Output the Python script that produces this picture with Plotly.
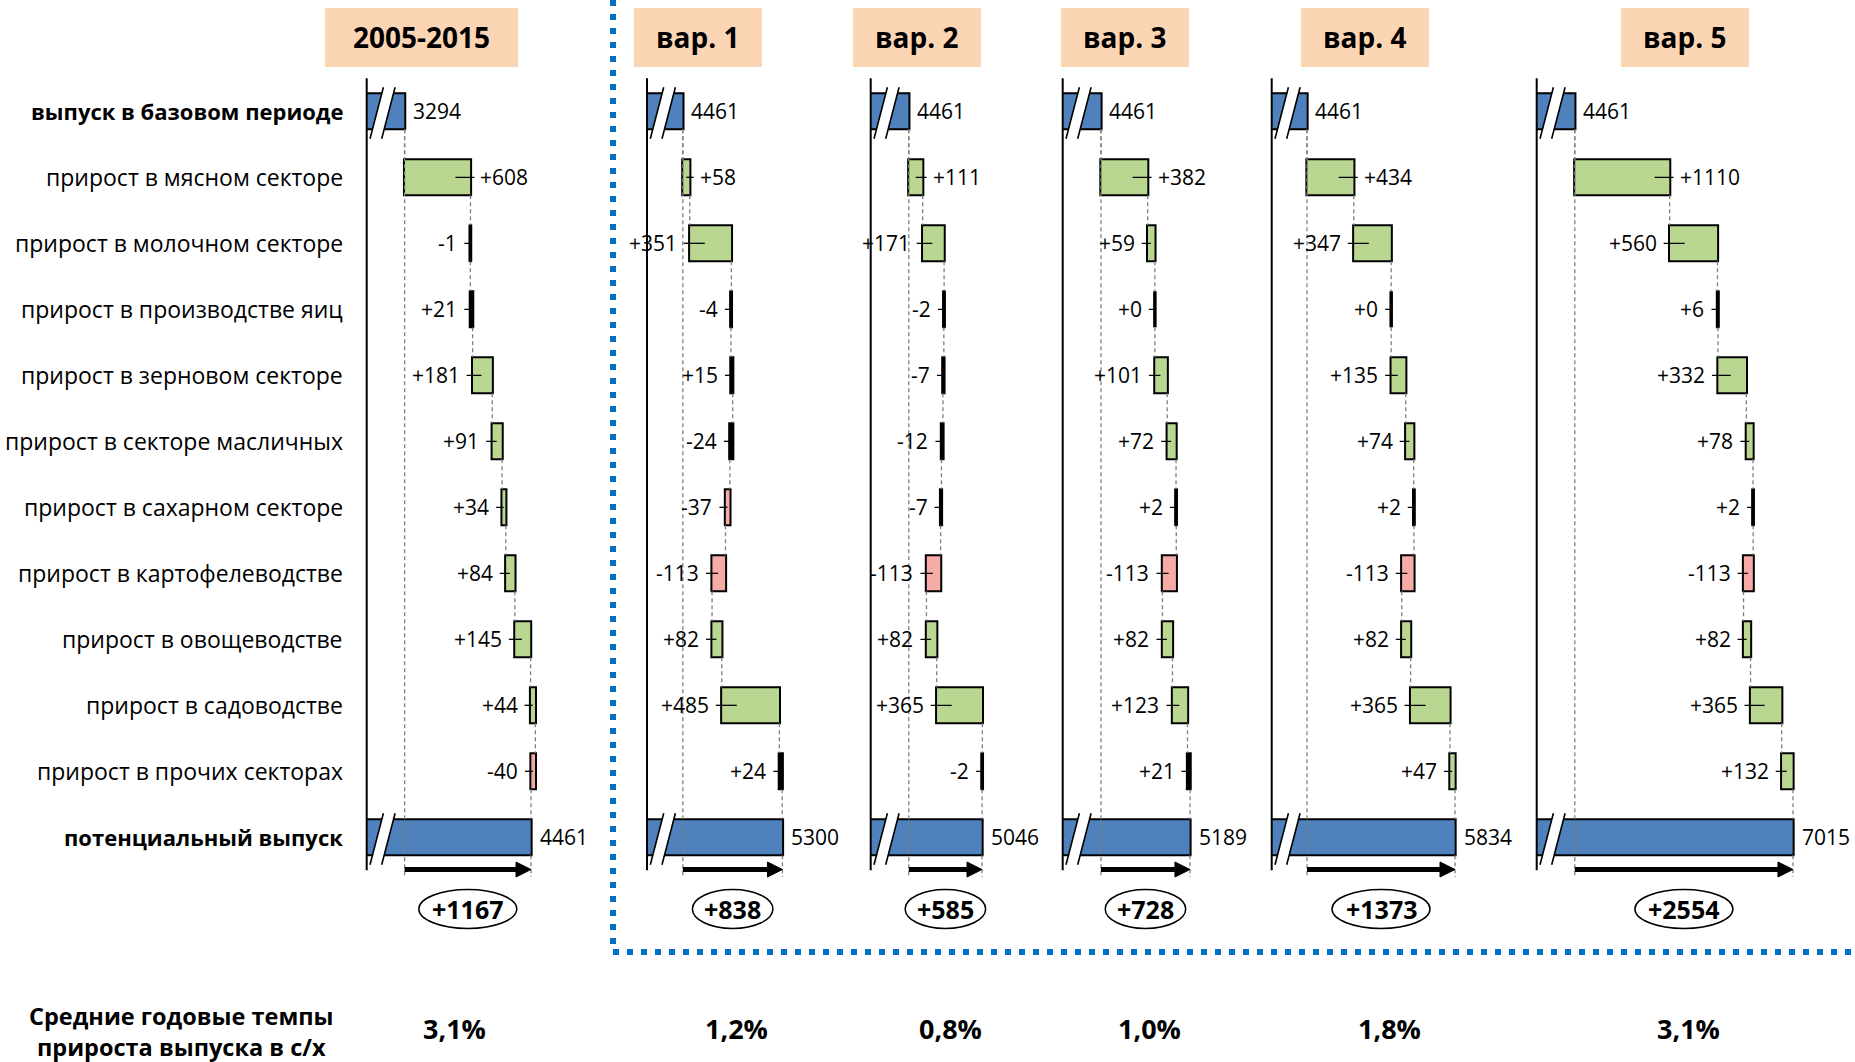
import plotly.graph_objects as go

# ---------------- data ----------------
categories = [
    "выпуск в базовом периоде",
    "прирост в мясном секторе",
    "прирост в молочном секторе",
    "прирост в производстве яиц",
    "прирост в зерновом секторе",
    "прирост в секторе масличных",
    "прирост в сахарном секторе",
    "прирост в картофелеводстве",
    "прирост в овощеводстве",
    "прирост в садоводстве",
    "прирост в прочих секторах",
    "потенциальный выпуск",
]
panel_titles = ["2005-2015", "вар. 1", "вар. 2", "вар. 3", "вар. 4", "вар. 5"]
base_output = [3294, 4461, 4461, 4461, 4461, 4461]
inc_2005_2015 = [608, -1, 21, 181, 91, 34, 84, 145, 44, -40]
inc_var1 = [58, 351, -4, 15, -24, -37, -113, 82, 485, 24]
inc_var2 = [111, 171, -2, -7, -12, -7, -113, 82, 365, -2]
inc_var3 = [382, 59, 0, 101, 72, 2, -113, 82, 123, 21]
inc_var4 = [434, 347, 0, 135, 74, 2, -113, 82, 365, 47]
inc_var5 = [1110, 560, 6, 332, 78, 2, -113, 82, 365, 132]
increments = [inc_2005_2015, inc_var1, inc_var2, inc_var3, inc_var4, inc_var5]
potential_output = [4461, 5300, 5046, 5189, 5834, 7015]
total_growth = [1167, 838, 585, 728, 1373, 2554]
annual_growth = ["3,1%", "1,2%", "0,8%", "1,0%", "1,8%", "3,1%"]
growth_caption = "Средние годовые темпы<br>прироста выпуска в с/х"

# ---------------- layout constants ----------------
W, H = 1855, 1062
ROW_PX = 66.0
ROW0_PX = 111.3
BAR_W = 0.545
panel_left_px = [366.7, 647.0, 870.7, 1062.7, 1271.7, 1536.7]
panel_xmin = [2944, 4159, 4156.5, 4148, 4133.5, 4015]
panel_px_per_unit = [0.10831, 0.11871, 0.12513, 0.12225, 0.10779, 0.08543]
header_px = [(325, 518), (634, 762), (853, 981), (1061, 1189), (1301, 1429), (1621, 1749)]
pct_center_px = [454, 736, 950, 1149, 1389, 1688]
HEADER_Y = (8, 67)

BLUE = "#4F81BD"
GREEN = "#B9D791"
PINK = "#F5ABA6"
PEACH = "#FCD5B5"
DOT_BLUE = "#0070C0"
GRAY = "#7F7F7F"
FONT = "Open Sans"
VAL_SIZE = 21
CAT_SIZE = 23
CAT_BOLD_SIZE = 22

Y_ARROW = (869.5 - ROW0_PX) / ROW_PX
Y_DASH_END = (877 - ROW0_PX) / ROW_PX
Y_ELL = (909 - ROW0_PX) / ROW_PX
Y_PCT = (1028 - ROW0_PX) / ROW_PX
Y_CAPTION = (1031 - ROW0_PX) / ROW_PX

fig = go.Figure()
shapes = []
annotations = []

n_rows = len(categories)
half = BAR_W / 2

for p in range(6):
    ax = "x" if p == 0 else f"x{p + 1}"
    s = panel_px_per_unit[p]
    x0ax = panel_xmin[p]
    incs = increments[p]
    b = base_output[p]
    f = potential_output[p]

    def dx(px, s=s):
        return px / s

    def dy(px):
        return px / ROW_PX

    fig.add_trace(go.Waterfall(
        orientation="h",
        measure=["absolute"] + ["relative"] * len(incs) + ["absolute"],
        x=[b] + incs + [f],
        y=list(range(n_rows)),
        xaxis=ax, yaxis="y",
        width=BAR_W,
        textinfo="none",
        hoverinfo="skip",
        increasing=dict(marker=dict(color=GREEN, line=dict(color="black", width=2))),
        decreasing=dict(marker=dict(color=PINK, line=dict(color="black", width=2))),
        totals=dict(marker=dict(color=BLUE, line=dict(color="black", width=2))),
        connector=dict(mode="between", line=dict(color=GRAY, width=1.3, dash="4px,3px")),
    ))

    # very thin bars are rendered as solid black strokes
    cum = b
    for r, v in enumerate(incs, start=1):
        start, end = cum, cum + v
        cum = end
        L, R = min(start, end), max(start, end)
        wpx = abs(v) * s
        if wpx < 3.0:
            c = (L + R) / 2
            fig.add_trace(go.Scatter(x=[c, c], y=[r - half, r + half], xaxis=ax, yaxis="y",
                                     mode="lines", line=dict(color="black", width=max(3.5, wpx + 2)),
                                     hoverinfo="skip", showlegend=False))
        if r == 1:
            inward = min(15, 0.5 * wpx)
            shapes.append(dict(type="line", xref=ax, yref="y", x0=R - dx(inward), x1=R + dx(4),
                               y0=r, y1=r, line=dict(color="black", width=1.3)))
            annotations.append(dict(xref=ax, yref="y", x=R, y=r, xshift=8, xanchor="left",
                                    yanchor="middle", showarrow=False, text=f"{v:+d}",
                                    font=dict(family=FONT, size=VAL_SIZE, color="black")))
        else:
            inward = min(15, 0.45 * wpx)
            shapes.append(dict(type="line", xref=ax, yref="y", x0=L - dx(6), x1=L + dx(inward),
                               y0=r, y1=r, line=dict(color="black", width=1.3)))
            annotations.append(dict(xref=ax, yref="y", x=L, y=r, xshift=-11, xanchor="right",
                                    yanchor="middle", showarrow=False, text=f"{v:+d}",
                                    font=dict(family=FONT, size=VAL_SIZE, color="black")))

    # base / final value labels
    annotations.append(dict(xref=ax, yref="y", x=b, y=0, xshift=6, xanchor="left", yanchor="middle",
                            showarrow=False, text=str(b),
                            font=dict(family=FONT, size=VAL_SIZE, color="black")))
    annotations.append(dict(xref=ax, yref="y", x=f, y=n_rows - 1, xshift=7, xanchor="left",
                            yanchor="middle", showarrow=False, text=str(f),
                            font=dict(family=FONT, size=VAL_SIZE, color="black")))

    # long dashed guides
    shapes.append(dict(type="line", xref=ax, yref="y", x0=b, x1=b, y0=half, y1=Y_DASH_END,
                       line=dict(color=GRAY, width=1.3, dash="4px,3px")))
    shapes.append(dict(type="line", xref=ax, yref="y", x0=f, x1=f, y0=n_rows - 1 + half, y1=Y_DASH_END,
                       line=dict(color=GRAY, width=1.3, dash="4px,3px")))

    # axis line
    xl = panel_left_px[p] / W
    shapes.append(dict(type="line", xref="paper", yref="y", x0=xl, x1=xl, y0=-0.5, y1=n_rows - 0.5,
                       line=dict(color="black", width=2)))

    # axis-break marks on base and final bars
    for r in (0, n_rows - 1):
        def X(px):
            return x0ax + dx(px)

        def Y(px, r=r):
            return r + dy(px)
        fillp = (f"M {X(5.25)},{Y(20)} L {X(15.66)},{Y(-20)} L {X(27.36)},{Y(-20)} "
                 f"L {X(16.95)},{Y(20)} Z")
        shapes.append(dict(type="path", xref=ax, yref="y", path=fillp, fillcolor="white",
                           line=dict(width=0)))
        linep = (f"M {X(3.3)},{Y(27.5)} L {X(16.7)},{Y(-24)} "
                 f"M {X(15.0)},{Y(27.5)} L {X(28.4)},{Y(-24)}")
        shapes.append(dict(type="path", xref=ax, yref="y", path=linep,
                           line=dict(color="black", width=1.6)))

    # growth arrow
    shapes.append(dict(type="line", xref=ax, yref="y", x0=b, x1=f - dx(12), y0=Y_ARROW, y1=Y_ARROW,
                       line=dict(color="black", width=5)))
    headp = (f"M {f},{Y_ARROW} L {f - dx(15)},{Y_ARROW - dy(7.5)} "
             f"L {f - dx(15)},{Y_ARROW + dy(7.5)} Z")
    shapes.append(dict(type="path", xref=ax, yref="y", path=headp, fillcolor="black",
                       line=dict(color="black", width=1)))

    # ellipse with total growth
    mid = (b + f) / 2
    ew = 28 + 17.5 * len(str(total_growth[p]))
    shapes.append(dict(type="circle", xref=ax, yref="y", x0=mid - dx(ew / 2), x1=mid + dx(ew / 2),
                       y0=Y_ELL - dy(19.5), y1=Y_ELL + dy(19.5), fillcolor="white",
                       line=dict(color="black", width=1.5)))
    annotations.append(dict(xref=ax, yref="y", x=mid, y=Y_ELL, showarrow=False,
                            text=f"<b>+{total_growth[p]}</b>", xanchor="center", yanchor="middle",
                            font=dict(family=FONT, size=25, color="black")))

    # annual growth rate
    annotations.append(dict(xref="paper", yref="y", x=pct_center_px[p] / W, y=Y_PCT, showarrow=False,
                            text=f"<b>{annual_growth[p]}</b>", xanchor="center", yanchor="middle",
                            font=dict(family=FONT, size=27, color="black")))

    # header box
    hx0, hx1 = header_px[p]
    shapes.append(dict(type="rect", xref="paper", yref="paper", x0=hx0 / W, x1=hx1 / W,
                       y0=1 - HEADER_Y[1] / H, y1=1 - HEADER_Y[0] / H, fillcolor=PEACH,
                       line=dict(width=0), layer="below"))
    annotations.append(dict(xref="paper", yref="paper", x=(hx0 + hx1) / 2 / W,
                            y=1 - (HEADER_Y[0] + HEADER_Y[1]) / 2 / H, showarrow=False,
                            text=f"<b>{panel_titles[p]}</b>", xanchor="center", yanchor="middle",
                            font=dict(family=FONT, size=28, color="black")))

# category labels
for r, c in enumerate(categories):
    bold = r in (0, n_rows - 1)
    txt = f"<b>{c}</b>" if bold else c
    annotations.append(dict(xref="paper", yref="y", x=345 / W, y=r, xanchor="right", yanchor="middle",
                            showarrow=False, text=txt,
                            font=dict(family=FONT, size=CAT_BOLD_SIZE if bold else CAT_SIZE,
                                      color="black")))

annotations.append(dict(xref="paper", yref="y", x=181 / W, y=Y_CAPTION, xanchor="center",
                        yanchor="middle", showarrow=False, text=f"<b>{growth_caption}</b>",
                        align="center", font=dict(family=FONT, size=23.5, color="black")))

# blue dotted frame
yb = 1 - 952 / H
shapes.append(dict(type="line", xref="paper", yref="paper", x0=613 / W, x1=613 / W, y0=1, y1=yb,
                   line=dict(color=DOT_BLUE, width=6, dash="6px,8px")))
shapes.append(dict(type="line", xref="paper", yref="paper", x0=613 / W, x1=1, y0=yb, y1=yb,
                   line=dict(color=DOT_BLUE, width=6, dash="6px,8px")))

layout = dict(
    width=W, height=H, margin=dict(l=0, r=0, t=0, b=0),
    paper_bgcolor="white", plot_bgcolor="rgba(0,0,0,0)", showlegend=False,
    shapes=shapes, annotations=annotations,
    yaxis=dict(domain=[0, 1], range=[(H - ROW0_PX) / ROW_PX, -ROW0_PX / ROW_PX], visible=False,
               fixedrange=True),
)
for p in range(6):
    key = "xaxis" if p == 0 else f"xaxis{p + 1}"
    left = panel_left_px[p]
    right = panel_left_px[p + 1] if p < 5 else W
    wp = right - left
    layout[key] = dict(domain=[left / W, right / W], anchor="y", visible=False, fixedrange=True,
                       range=[panel_xmin[p], panel_xmin[p] + wp / panel_px_per_unit[p]])
fig.update_layout(**layout)

fig.write_html("out.html", config={"displayModeBar": False},
               post_script="document.body.style.margin='0';document.body.style.overflow='hidden';")
